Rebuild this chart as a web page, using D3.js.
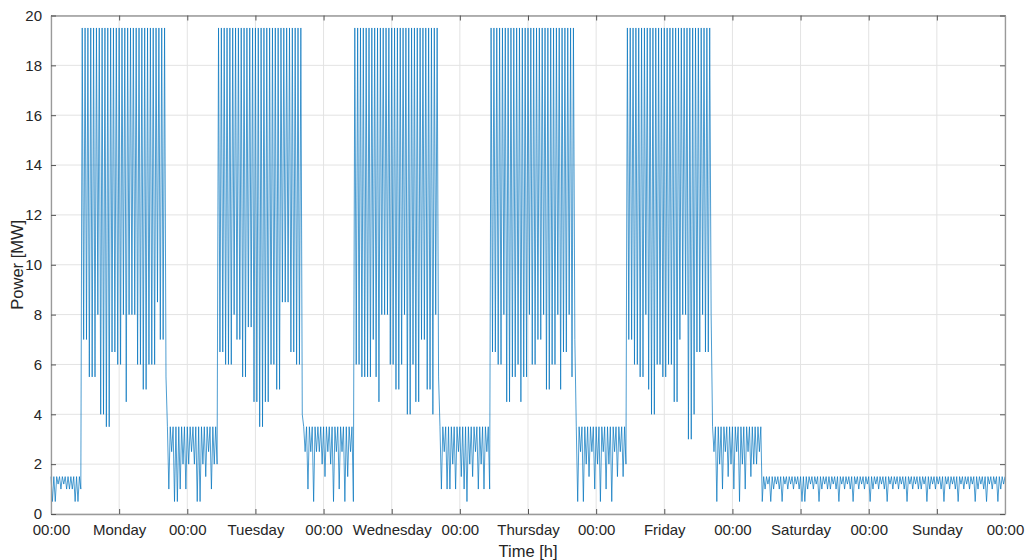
<!DOCTYPE html>
<html><head><meta charset="utf-8">
<script src="https://cdn.jsdelivr.net/npm/d3@7"></script>
<style>
body{margin:0;background:#fff;}
text{font-family:"Liberation Sans",Arial,Helvetica,sans-serif;fill:#262626;}
</style>
</head><body>
<svg id="chart" width="1028" height="560"></svg>
<script>
// sampling step of the series, hours
const stepHours = 0.25;

// Power [MW], 15-minute samples
const mondayEarly = [1.5,0.5,1.5,0.5,1.5,1.2,1.5,1.0,1.5,1.2,1.5,1.0,1.5,1.0,1.5,1.0,1.5,0.5,1.5,0.5,1.5,1.0];
const mondayShift = [19.5,7,19.5,7,19.5,5.5,19.5,5.5,19.5,5.5,19.5,8,19.5,4,19.5,4,19.5,3.5,19.5,3.5,
  19.5,6.5,19.5,6.5,19.5,6,19.5,6,19.5,8,19.5,4.5,19.5,8,19.5,8,19.5,8,19.5,6,
  19.5,6,19.5,5,19.5,5,19.5,6,19.5,6,19.5,6,19.5,8.5,19.5,7,19.5,7,19.5,5.5];
const mondayNight = [3.5,1.0,3.5,2.5,3.5,0.5,3.5,0.5,3.5,1.0,3.5,2.0,3.5,1.0,3.5,2.0,3.5,2.5,
  3.5,2.0,3.5,0.5,3.5,0.5,3.5,2.0,3.5,1.5,3.5,2.5,3.5,1.0,3.5,2.0,3.5,2.0];
const tuesdayShift = [19.5,6.5,19.5,6.5,19.5,6,19.5,6,19.5,6,19.5,8,19.5,7,19.5,7,19.5,5.5,19.5,5.5,
  19.5,7.5,19.5,7.5,19.5,4.5,19.5,4.5,19.5,3.5,19.5,3.5,19.5,4.5,19.5,4.5,19.5,6,19.5,6,
  19.5,5,19.5,5,19.5,8.5,19.5,8.5,19.5,8.5,19.5,6.5,19.5,6.5,19.5,6,19.5,6,19.5,4];
const tuesdayNight = [3.5,2.5,3.5,1.0,3.5,2.5,3.5,0.5,3.5,2.5,3.5,2.5,3.5,2.0,3.5,1.5,3.5,2.5,
  3.5,2.0,3.5,0.5,3.5,2.5,3.5,1.0,3.5,2.5,3.5,0.5,3.5,1.5,3.5,2.5,3.5,0.5];
const wednesdayShift = [19.5,6,19.5,6,19.5,5.5,19.5,5.5,19.5,5.5,19.5,5.5,19.5,7,19.5,5.5,19.5,4.5,19.5,8,
  19.5,8,19.5,8,19.5,6,19.5,6,19.5,5,19.5,5,19.5,6,19.5,8,19.5,4,19.5,4,
  19.5,6,19.5,4.5,19.5,4.5,19.5,7,19.5,7,19.5,5,19.5,5,19.5,4,19.5,8,19.5,5.5];
const wednesdayNight = [3.5,1.0,3.5,2.5,3.5,1.0,3.5,1.0,3.5,2.0,3.5,1.0,3.5,2.5,3.5,1.5,3.5,1.0,
  3.5,0.5,3.5,2.0,3.5,1.5,3.5,2.5,3.5,1.0,3.5,2.0,3.5,1.0,3.5,2.5,3.5,1.0];
const thursdayShift = [19.5,6.5,19.5,6.5,19.5,6,19.5,6,19.5,8,19.5,4.5,19.5,4.5,19.5,5.5,19.5,5.5,19.5,6,
  19.5,4.5,19.5,5.5,19.5,5.5,19.5,8,19.5,6,19.5,6,19.5,7,19.5,7,19.5,8,19.5,5,
  19.5,5,19.5,6,19.5,6,19.5,8,19.5,5,19.5,6.5,19.5,6.5,19.5,8,19.5,5.5,19.5,7];
const thursdayNight = [3.5,0.5,3.5,2.5,3.5,0.5,3.5,2.0,3.5,1.5,3.5,2.5,3.5,1.0,3.5,2.0,3.5,0.5,
  3.5,2.5,3.5,1.0,3.5,2.0,3.5,0.5,3.5,2.5,3.5,1.5,3.5,2.5,3.5,1.5,3.5,2.0];
const fridayShift = [19.5,7,19.5,7,19.5,6,19.5,6,19.5,5.5,19.5,5.5,19.5,8,19.5,5,19.5,4,19.5,4,
  19.5,6,19.5,6,19.5,5.5,19.5,5.5,19.5,6,19.5,6,19.5,4.5,19.5,4.5,19.5,7,19.5,8,
  19.5,8,19.5,3,19.5,3,19.5,4,19.5,6.5,19.5,6.5,19.5,8,19.5,6.5,19.5,6.5,19.5,8];
const fridayNight = [3.5,2.5,3.5,0.5,3.5,2.0,3.5,1.0,3.5,2.5,3.5,1.5,3.5,2.0,3.5,1.0,3.5,2.5,
  3.5,0.5,3.5,2.0,3.5,1.0,3.5,2.5,3.5,1.5,3.5,2.0,3.5,2.0,3.5,2.5,3.5,0.5];
const weekend = [1.5,1.0,1.5,1.2,1.5,0.5,1.5,1.0,1.5,1.2,1.5,1.0,1.5,0.5,1.5,1.2,1.5,1.0,1.5,1.2,
  1.5,1.0,1.5,1.2,1.5,1.0,1.5,0.5,1.5,0.5,1.5,1.0,1.5,1.2,1.5,1.0,1.5,1.2,1.5,0.5,
  1.5,1.0,1.5,1.2,1.5,1.0,1.5,1.0,1.5,1.2,1.5,1.0,1.5,0.5,1.5,1.2,1.5,1.0,1.5,1.2,
  1.5,1.0,1.5,0.5,1.5,1.2,1.5,1.0,1.5,1.2,1.5,1.0,1.5,1.2,1.5,0.5,1.5,1.0,1.5,1.2,
  1.5,1.0,1.5,1.2,1.5,1.0,1.5,0.5,1.5,1.2,1.5,1.0,1.5,1.2,1.5,1.0,1.5,1.2,1.5,1.0,
  1.5,0.5,1.5,1.2,1.5,1.0,1.5,1.2,1.5,1.0,1.5,1.0,1.5,1.2,1.5,0.5,1.5,1.0,1.5,1.2,
  1.5,1.0,1.5,1.2,1.5,1.0,1.5,0.5,1.5,1.2,1.5,1.0,1.5,1.2,1.5,1.0,1.5,0.5,1.5,1.2,
  1.5,1.0,1.5,1.2,1.5,1.0,1.5,1.2,1.5,0.5,1.5,1.0,1.5,1.2,1.5,1.0,1.5,0.5,1.5,1.2,
  1.5,1.0,1.5,1.2,1.5,0.5,1.5,1.0,1.5,1.2,1.5];

// axis ticks
const xTickHours = [0,12,24,36,48,60,72,84,96,108,120,132,144,156,168];
const xTickLabels = ["00:00","Monday","00:00","Tuesday","00:00","Wednesday","00:00","Thursday","00:00","Friday","00:00","Saturday","00:00","Sunday","00:00"];
const yTicks = [0,2,4,6,8,10,12,14,16,18,20];
const xTitle = "Time [h]";
const yTitle = "Power [MW]";

const power = [].concat(mondayEarly, mondayShift, mondayNight, tuesdayShift, tuesdayNight,
  wednesdayShift, wednesdayNight, thursdayShift, thursdayNight, fridayShift, fridayNight, weekend);
const series = power.map((v, i) => ({t: i * stepHours, v}));

const m = {left: 51, right: 1005, top: 15.5, bottom: 514};
const svg = d3.select("#chart");
const x = d3.scaleLinear().domain([0, 168]).range([m.left, m.right]);
const y = d3.scaleLinear().domain([0, 20]).range([m.bottom, m.top]);

// grid
const g = svg.append("g");
g.selectAll(".vg").data(xTickHours).join("line")
  .attr("x1", d => x(d)).attr("x2", d => x(d)).attr("y1", m.top).attr("y2", m.bottom)
  .attr("stroke", "#e3e3e3").attr("stroke-width", 1);
g.selectAll(".hg").data(yTicks).join("line")
  .attr("y1", d => y(d)).attr("y2", d => y(d)).attr("x1", m.left).attr("x2", m.right)
  .attr("stroke", "#e3e3e3").attr("stroke-width", 1);

// data line
svg.append("path").datum(series)
  .attr("fill", "none").attr("stroke", "#0072BD").attr("stroke-width", 0.7)
  .attr("stroke-linejoin", "round")
  .attr("d", d3.line().x(d => x(d.t)).y(d => y(d.v)));

// axes (MATLAB style, ticks inward, box on)
const xAxisB = d3.axisBottom(x).tickValues(xTickHours).tickFormat((d, i) => xTickLabels[i]).tickSizeInner(-5).tickSizeOuter(0).tickPadding(10);
const xAxisT = d3.axisTop(x).tickValues(xTickHours).tickFormat("").tickSizeInner(-5).tickSizeOuter(0);
const yAxisL = d3.axisLeft(y).tickValues(yTicks).tickFormat(d3.format("d")).tickSizeInner(-5).tickSizeOuter(0).tickPadding(9);
const yAxisR = d3.axisRight(y).tickValues(yTicks).tickFormat("").tickSizeInner(-5).tickSizeOuter(0);

function style(sel) {
  sel.select(".domain").attr("stroke", "#9a9a9a").attr("stroke-width", 1.3);
  sel.selectAll(".tick line").attr("stroke", "#555").attr("stroke-width", 1);
  sel.selectAll(".tick text").attr("font-size", 15).attr("fill", "#262626")
    .attr("font-family", "'Liberation Sans', Arial, sans-serif");
}
svg.append("g").attr("transform", `translate(0,${m.bottom})`).call(xAxisB).call(style);
svg.append("g").attr("transform", `translate(0,${m.top})`).call(xAxisT).call(style);
svg.append("g").attr("transform", `translate(${m.left},0)`).call(yAxisL).call(style);
svg.append("g").attr("transform", `translate(${m.right},0)`).call(yAxisR).call(style);

svg.append("text").attr("x", (m.left + m.right) / 2).attr("y", 557)
  .attr("text-anchor", "middle").attr("font-size", 16.5).text(xTitle);
svg.append("text").attr("transform", `translate(23,${(m.top + m.bottom) / 2}) rotate(-90)`)
  .attr("text-anchor", "middle").attr("font-size", 16.5).text(yTitle);
</script>
</body></html>
